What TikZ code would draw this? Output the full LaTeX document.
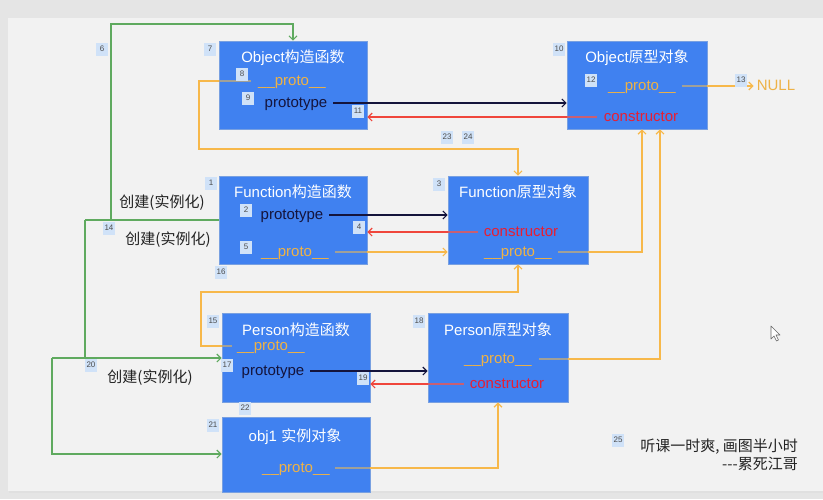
\documentclass[tikz,border=0pt]{standalone}
\usepackage{fontspec}
\setmainfont{Liberation Sans}
\newfontfamily\cjk{Noto Sans CJK SC}
\usetikzlibrary{arrows.meta}
\definecolor{boxblue}{RGB}{64,129,240}
\definecolor{boxedge}{RGB}{120,160,225}
\definecolor{orangeL}{RGB}{247,184,74}
\definecolor{orangeT}{RGB}{238,178,70}
\definecolor{redL}{RGB}{240,70,60}
\definecolor{redT}{RGB}{232,30,50}
\definecolor{redIn}{RGB}{200,95,115}
\definecolor{grayIn}{RGB}{160,160,152}
\definecolor{greenL}{RGB}{95,170,95}
\definecolor{tagbg}{RGB}{208,226,248}
\definecolor{slide}{RGB}{242,242,242}
\definecolor{outer}{RGB}{229,229,229}
\definecolor{navy}{RGB}{20,20,60}
\definecolor{txt}{RGB}{35,35,35}
\begin{document}
\begin{tikzpicture}[x=1pt,y=-1pt,
  box/.style={draw=boxedge,line width=0.6pt,fill=boxblue,inner sep=0pt},
  t/.style={font=\fontsize{15}{18}\selectfont,inner sep=0pt,text height=11pt,text depth=3pt},
  ttl/.style={t,text=white},
  pr/.style={t,text=orangeT},
  pt/.style={t,text=navy},
  cn/.style={t,text=redT},
  lab/.style={t,text=txt},
  tag/.style={fill=tagbg,text=black!70,font=\fontsize{8}{9}\selectfont,inner sep=1.5pt,minimum height=13,minimum width=12},
  tip/.style={-{Straight Barb[length=4pt,width=8pt,line width=1.2pt]}},
  oline/.style={draw=orangeL,line width=1.3pt},
  rline/.style={draw=redL,line width=1.2pt},
  bline/.style={draw=navy,line width=1.3pt},
  gline/.style={draw=greenL,line width=1.3pt},
  oin/.style={draw=grayIn,line width=1.3pt},
  rin/.style={draw=redIn,line width=1.2pt}
]
\useasboundingbox (0,0) rectangle (823,499);
\fill[outer] (0,0) rectangle (823,499);
\fill[black!12] (9,19.5) rectangle (823,493);
\fill[slide] (8,18) rectangle (823,491);

% boxes
\node[box,minimum width=148,minimum height=88] (oc) at (293,85) {};
\node[box,minimum width=140,minimum height=88] (op) at (637,85) {};
\node[box,minimum width=148,minimum height=88] (fc) at (293,220) {};
\node[box,minimum width=140,minimum height=88] (fp) at (518,220) {};
\node[box,minimum width=148,minimum height=89] (pc) at (296,357.5) {};
\node[box,minimum width=140,minimum height=89] (pp) at (498,357.5) {};
\node[box,minimum width=148,minimum height=75] (ob) at (296,454.5) {};

% texts
\node[ttl] (ocT) at (293,58) {Object{\cjk 构造函数}};
\node[pr] (ocPr) at (292,81) {\_\_proto\_\_};
\node[pt] (ocPt) at (296,103) {prototype};

\node[ttl] (opT) at (637,58) {Object{\cjk 原型对象}};
\node[pr] (opPr) at (642,86) {\_\_proto\_\_};
\node[cn] (opCon) at (641,117) {constructor};
\node[t,text=orangeT] (null) at (776,86) {NULL};

\node[ttl] (fcT) at (293,193) {Function{\cjk 构造函数}};
\node[pt] (fcPt) at (292,215) {prototype};
\node[pr] (fcPr) at (295,252) {\_\_proto\_\_};

\node[ttl] (fpT) at (518,193) {Function{\cjk 原型对象}};
\node[cn] (fpCon) at (521,232) {constructor};
\node[pr] (fpPr) at (518,252) {\_\_proto\_\_};

\node[ttl] (pcT) at (296,331) {Person{\cjk 构造函数}};
\node[pr] (pcPr) at (271,346) {\_\_proto\_\_};
\node[pt] (pcPt) at (273,371) {prototype};

\node[ttl] (ppT) at (498,331) {Person{\cjk 原型对象}};
\node[pr] (ppPr) at (498,359) {\_\_proto\_\_};
\node[cn] (ppCon) at (507,384) {constructor};

\node[ttl] (obT) at (295,437) {obj1 {\cjk 实例对象}};
\node[pr] (obPr) at (296,468) {\_\_proto\_\_};

\node[lab] (cj1) at (162,203) {\cjk 创建(实例化)};
\node[lab] (cj2) at (168,240) {\cjk 创建(实例化)};
\node[lab] (cj3) at (150,378) {\cjk 创建(实例化)};

\node[lab,anchor=east] (note1) at (798,447) {\cjk 听课一时爽, 画图半小时};
\node[lab,anchor=east] (note2) at (798,465) {\cjk ---累死江哥};

% coordinates
\coordinate (c4) at (199,149);
\coordinate (c8) at (642,252);
\coordinate (c9) at (660,359);
\coordinate (c10) at (201,292);
\coordinate (c13) at (498,468);
\coordinate (gA) at (111,24);
\coordinate (gJ) at (111,220);
\coordinate (gK) at (85,220);
\coordinate (gL) at (85,358);
\coordinate (gM) at (52,358);
\coordinate (gN) at (52,454);

% black prototype connectors
\draw[bline,tip] ([xshift=6]ocPt.east) -- (op.west |- ocPt);
\draw[bline,tip] ([xshift=6]fcPt.east) -- (fp.west |- fcPt);
\draw[bline,tip] ([xshift=6]pcPt.east) -- (pp.west |- pcPt);

% red constructor connectors
\draw[rline,tip] ([xshift=-7]opCon.west) -- (oc.east |- opCon);
\draw[rin] ([xshift=-7]opCon.west) -- (op.west |- opCon);
\draw[rline,tip] ([xshift=-6]fpCon.west) -- (fc.east |- fpCon);
\draw[rin] ([xshift=-6]fpCon.west) -- (fp.west |- fpCon);
\draw[rline,tip] ([xshift=-6]ppCon.west) -- (pc.east |- ppCon);
\draw[rin] ([xshift=-6]ppCon.west) -- (pp.west |- ppCon);

% orange proto connectors
\draw[oline,tip] ([xshift=6]opPr.east) -- ([xshift=-3]null.west);
\draw[oin] ([xshift=6]opPr.east) -- (op.east |- opPr);

\draw[oline,tip] ([xshift=-7]ocPr.west) -- (ocPr.west -| c4) -- (c4) -- (c4 -| fp.north) -- (fp.north);
\draw[oin] ([xshift=-7]ocPr.west) -- (oc.west |- ocPr);

\draw[oline,tip] ([xshift=6]fcPr.east) -- (fp.west |- fcPr);
\draw[oin] ([xshift=6]fcPr.east) -- (fc.east |- fcPr);

\draw[oline,tip] ([xshift=6]fpPr.east) -- (fpPr.east -| c8) -- (op.south -| c8);
\draw[oin] ([xshift=6]fpPr.east) -- (fp.east |- fpPr);

\draw[oline,tip] ([xshift=7]ppPr.east) -- (ppPr.east -| c9) -- (op.south -| c9);
\draw[oin] ([xshift=7]ppPr.east) -- (pp.east |- ppPr);

\draw[oline,tip] ([xshift=-5]pcPr.west) -- (pcPr.west -| c10) -- (c10) -- (c10 -| fp.south) -- (fp.south);
\draw[oin] ([xshift=-5]pcPr.west) -- (pc.west |- pcPr);

\draw[oline,tip] ([xshift=5]obPr.east) -- (obPr.east -| c13) -- (pp.south -| c13);
\draw[oin] ([xshift=5]obPr.east) -- (ob.east |- obPr);

% green creation connectors
\draw[gline,tip] (gJ) -- (gA) -- (gA -| oc.north) -- (oc.north);
\draw[gline] (gK) -- (fc.west |- gK);
\draw[gline] (gK) -- (gL);
\draw[gline,tip] (gM) -- (pc.west |- gM);
\draw[gline,tip] (gM) -- (gN) -- (ob.west |- gN);

% number tags
\node[tag] (n1) at (211,183) {1};
\node[tag] (n2) at (246,210) {2};
\node[tag] (n3) at (439,184) {3};
\node[tag] (n4) at (359,227) {4};
\node[tag] (n5) at (246,247) {5};
\node[tag] (n6) at (102,49) {6};
\node[tag] (n7) at (210,49) {7};
\node[tag] (n8) at (242,74) {8};
\node[tag] (n9) at (248,98) {9};
\node[tag] (n10) at (559,49) {10};
\node[tag] (n11) at (358,111) {11};
\node[tag] (n12) at (591,80) {12};
\node[tag] (n13) at (741,80) {13};
\node[tag] (n14) at (109,228) {14};
\node[tag] (n15) at (213,321) {15};
\node[tag] (n16) at (221,272) {16};
\node[tag] (n17) at (227,365) {17};
\node[tag] (n18) at (419,321) {18};
\node[tag] (n19) at (363,378) {19};
\node[tag] (n20) at (91,365) {20};
\node[tag] (n21) at (213,425) {21};
\node[tag] (n22) at (245,408) {22};
\node[tag] (n23) at (447,137) {23};
\node[tag] (n24) at (468,137) {24};
\node[tag] (n25) at (618,440) {25};

% mouse cursor
\draw[fill=white,draw=black!60,line width=0.6pt,line join=round] (771,326) -- (771,339) -- (774,336) -- (776.5,341) -- (778.5,340) -- (776,335) -- (780,335) -- cycle;
\end{tikzpicture}
\end{document}
